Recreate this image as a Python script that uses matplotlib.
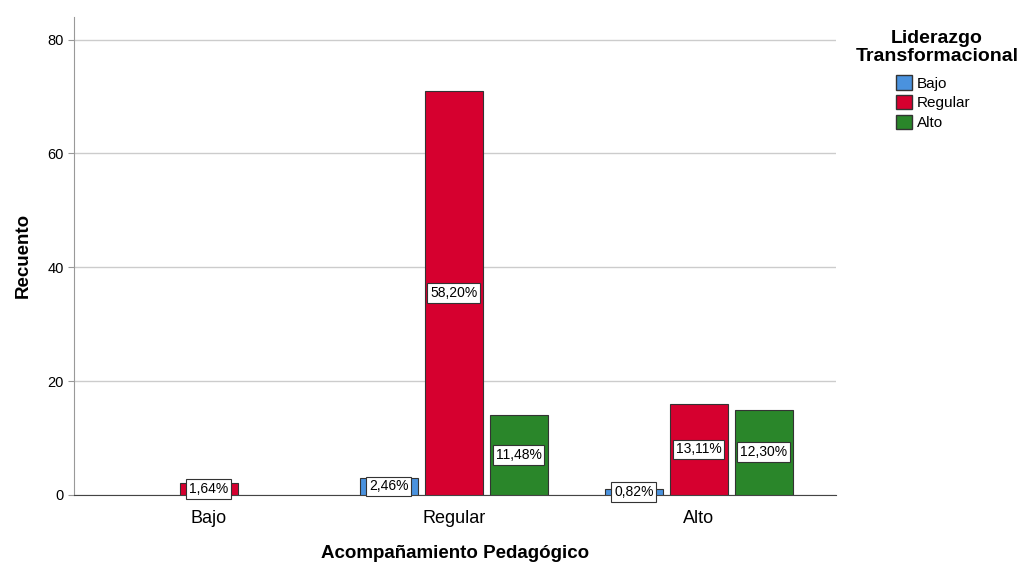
import numpy as np
import matplotlib.pyplot as plt

plt.rcParams['font.family'] = ['Liberation Sans', 'DejaVu Sans']

# datos
grupos = ['Bajo', 'Regular', 'Alto']
series = ['Bajo', 'Regular', 'Alto']
bajo = [0, 3, 1]
regular = [2, 71, 16]
alto = [0, 14, 15]
colores = ['#4a92de', '#d6002f', '#2a862a']
etiquetas = [['', '2,46%', '0,82%'],
             ['1,64%', '58,20%', '13,11%'],
             ['', '11,48%', '12,30%']]

fig = plt.figure(figsize=(10.27, 5.63), dpi=100)
ax = fig.add_axes([0.072, 0.121, 0.742, 0.849])

x = np.arange(len(grupos))
paso = 0.265
ancho = 0.237
valores = [bajo, regular, alto]
for k, (vals, col, nombre) in enumerate(zip(valores, colores, series)):
    pos = x + (k - 1) * paso
    for p, v, lab in zip(pos, vals, etiquetas[k]):
        if v > 0:
            ax.bar(p, v, width=ancho, color=col, edgecolor='#333333', linewidth=0.8, zorder=3)
        if lab:
            ax.text(p, v / 2, lab, ha='center', va='center', fontsize=10, zorder=4,
                    bbox=dict(boxstyle='square,pad=0.2', fc='white', ec='#333333', lw=0.8))
    ax.bar(0, 0, width=0, color=col, edgecolor='#333333', label=nombre)

ax.set_xlim(-0.55, 2.56)
ax.set_ylim(0, 84)
ax.set_yticks([0, 20, 40, 60, 80])
ax.set_xticks(x)
ax.set_xticklabels(grupos, fontsize=13)
ax.tick_params(axis='y', labelsize=10.5, length=4, color='#999999')
ax.tick_params(axis='x', length=0, pad=11)
ax.grid(axis='y', color='#cccccc', linewidth=1, zorder=0)
ax.spines['top'].set_visible(False)
ax.spines['right'].set_visible(False)
ax.spines['left'].set_color('#999999')
ax.spines['bottom'].set_color('#444444')
ax.set_ylabel('Recuento', fontsize=13.5, fontweight='bold', labelpad=11)
ax.set_xlabel('Acompañamiento Pedagógico', fontsize=13.5, fontweight='bold', labelpad=13)

# titulo de la leyenda
fig.text(937 / 1027, 1 - 30 / 563, 'Liderazgo\nTransformacional', ha='center', va='top',
         multialignment='center', fontsize=14, fontweight='bold', linespacing=1.05)

ley = fig.legend(loc='upper left', bbox_to_anchor=(896 / 1027, 1 - 75 / 563),
                 bbox_transform=fig.transFigure,
                 frameon=False, fontsize=11, handlelength=1.05, handleheight=1.1,
                 handletextpad=0.3, labelspacing=0.28, borderaxespad=0, borderpad=0)

fig.savefig('out.png', dpi=100)
